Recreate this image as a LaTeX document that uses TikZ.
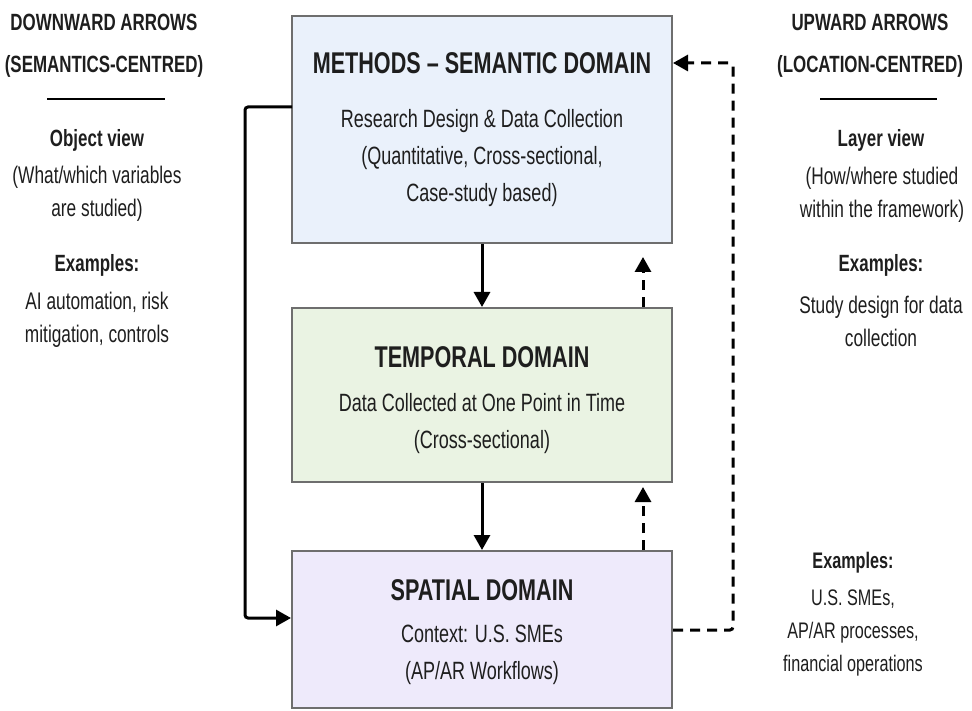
\documentclass[tikz,border=0pt]{standalone}
\usepackage{fontspec}
\setmainfont{Liberation Sans}[FakeStretch=0.72]
\usetikzlibrary{arrows.meta}
\definecolor{bluefill}{HTML}{EAF1FB}
\definecolor{greenfill}{HTML}{EAF3E3}
\definecolor{lavfill}{HTML}{EEEAFB}
\definecolor{boxline}{HTML}{6E6E6E}
\definecolor{txt}{HTML}{1E1E1E}
\begin{document}
\begin{tikzpicture}[x=1pt,y=-1pt,
  domainbox/.style={draw=boxline,line width=2.2pt},
  dtitle/.style={font=\fontsize{30}{32}\selectfont\bfseries,text=txt},
  dbody/.style={font=\fontsize{25}{37}\selectfont,text=txt,align=center},
  sidetxt/.style={font=\fontsize{24}{33}\selectfont,text=txt,align=center},
  sidehead/.style={font=\fontsize{23.5}{42}\selectfont\bfseries,text=txt,align=center},
  solidarrow/.style={line width=3pt,-{Triangle[length=15pt,width=16pt]}},
  dasharrow/.style={line width=3pt,dash pattern=on 10pt off 7pt,-{Triangle[length=15pt,width=16pt]}},
  rulebar/.style={line width=2pt}]
\useasboundingbox (0,0) rectangle (972,711);
\fill[white] (0,0) rectangle (972,711);
% boxes
\draw[domainbox,fill=bluefill] (292,16) rectangle (672,243);
\draw[domainbox,fill=greenfill] (292,308) rectangle (672,482);
\draw[domainbox,fill=lavfill] (292,551) rectangle (672,708);
\coordinate (mb) at (482,244);
\coordinate (ml) at (292,107); \coordinate (mr) at (673,63);
\coordinate (tt) at (482,307); \coordinate (tb) at (482,483);
\coordinate (st) at (482,550); \coordinate (sl) at (291,618); \coordinate (sr) at (673,630);
% texts
\node[dtitle] (mtitle) at (482,63) {METHODS – SEMANTIC DOMAIN};
\node[dbody] (mbody) at (482,158) {Research Design \& Data Collection\\(Quantitative, Cross-sectional,\\Case-study based)};
\node[dtitle] (ttitle) at (482,357) {TEMPORAL DOMAIN};
\node[dbody] (tbody) at (482,424) {Data Collected at One Point in Time\\(Cross-sectional)};
\node[dtitle] (stitle) at (482,590) {SPATIAL DOMAIN};
\node[dbody] (sbody) at (482,655) {Context: U.S. SMEs\\(AP/AR Workflows)};
% arrows
\draw[solidarrow] (mb) -- (tt);
\draw[solidarrow] (tb) -- (st);
\coordinate (u1a) at (643,307); \coordinate (u1b) at (643,257);
\coordinate (u2a) at (643,550); \coordinate (u2b) at (643,487);
\draw[dasharrow] (u1a) -- (u1b);
\draw[dasharrow] (u2a) -- (u2b);
\coordinate (dr1) at (733,630); \coordinate (dr2) at (733,63);
\draw[dasharrow,rounded corners=3pt] (sr) -- (dr1) -- (dr2) -- (mr);
\coordinate (sl1) at (245,107); \coordinate (sl2) at (245,618);
\draw[solidarrow,rounded corners=3pt] (ml) -- (sl1) -- (sl2) -- (sl);
% left column
\node[sidehead] (lh) at (104,46) {DOWNWARD ARROWS\\(SEMANTICS-CENTRED)};
\coordinate (lr1) at (47,99); \coordinate (lr2) at (165,99);
\draw[rulebar] (lr1) -- (lr2);
\node[sidehead] (lov) at (97,140) {Object view};
\node[sidetxt] (lovt) at (97,194) {(What/which variables\\are studied)};
\node[sidehead] (lex) at (97,265) {Examples:};
\node[sidetxt] (lext) at (97,320) {AI automation, risk\\mitigation, controls};
% right column
\node[sidehead] (rh) at (870,46) {UPWARD ARROWS\\(LOCATION-CENTRED)};
\coordinate (rr1) at (820,99); \coordinate (rr2) at (937,99);
\draw[rulebar] (rr1) -- (rr2);
\node[sidehead] (rlv) at (881,140) {Layer view};
\node[sidetxt] (rlvt) at (882,195) {(How/where studied\\within the framework)};
\node[sidehead] (rex) at (881,265) {Examples:};
\node[sidetxt] (rext) at (881,321) {Study design for data\\collection};
\node[sidehead,font=\fontsize{22.5}{33}\selectfont\bfseries] (bex) at (853,563) {Examples:};
\node[sidetxt,font=\fontsize{22.5}{33}\selectfont] (bext) at (853,633) {U.S. SMEs,\\AP/AR processes,\\financial operations};
\end{tikzpicture}
\end{document}
